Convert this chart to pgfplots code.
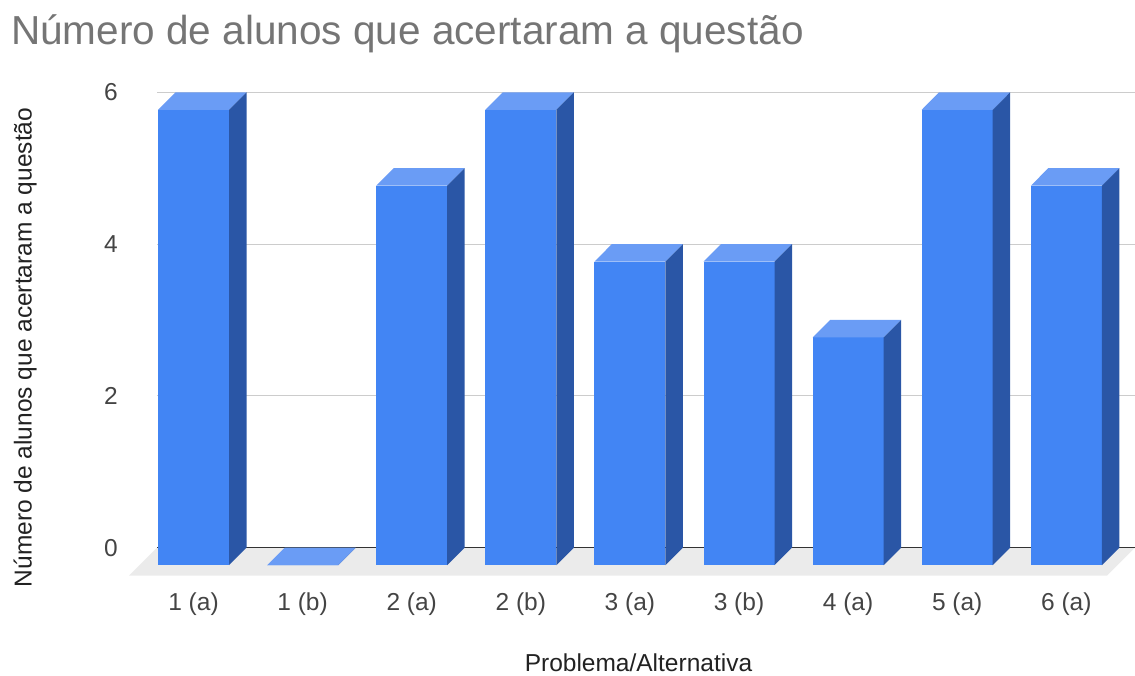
\documentclass[border=0pt]{standalone}
\usepackage{pgfplots}
\pgfplotsset{compat=1.18}
\usepackage{pgfplotstable}
\usepackage{fontspec}
\setmainfont{Liberation Sans}

\definecolor{barfront}{HTML}{4285F4}
\definecolor{bartop}{HTML}{6A9CF5}
\definecolor{barside}{HTML}{2A56A6}
\definecolor{floorgray}{HTML}{EBEBEB}
\definecolor{basecol}{HTML}{333333}
\definecolor{gridcol}{HTML}{CCCCCC}
\definecolor{titlecol}{HTML}{757575}
\definecolor{tickcol}{HTML}{444444}
\definecolor{labelcol}{HTML}{222222}

\pgfplotstableread{
x v
0 6
1 0
2 5
3 6
4 4
5 4
6 3
7 6
8 5
}\bars

\newcommand{\bodyfont}{\fontsize{24.5}{29}\selectfont}

\begin{document}
\begin{tikzpicture}
\path[use as bounding box] (0,0) rectangle (1135pt,675pt);
\begin{axis}[
  at={(157pt,99.5pt)}, anchor=south west,
  scale only axis, width=978pt, height=483.2pt,
  xmin=-0.3346, xmax=8.6297,
  ymin=-0.3663, ymax=6,
  clip=false,
  axis line style={draw=none},
  major tick length=0pt,
  ytick={0,2,4,6},
  ymajorgrids,
  grid style={gridcol, line width=1pt},
  xtick={0,1,2,3,4,5,6,7,8},
  xticklabels={1 (a),1 (b),2 (a),2 (b),3 (a),3 (b),4 (a),5 (a),6 (a)},
  /pgf/number format/assume math mode=true,
  tick label style={font=\bodyfont, text=tickcol, inner sep=0pt},
  yticklabel style={anchor=east, xshift=-39pt},
  xticklabel style={anchor=north, yshift=-17.5pt},
  every axis title shift=0pt,
  title={Número de alunos que acertaram a questão},
  title style={at={(rel axis cs:-0.1493,1.09789)}, anchor=base west, inner sep=0pt,
    font=\fontsize{40.5}{46}\selectfont, text=titlecol},
  xlabel={Problema/Alternativa},
  xlabel style={at={(rel axis cs:0.4923,-0.1977)}, anchor=base, inner sep=0pt,
    font=\bodyfont, text=labelcol},
  ylabel={Número de alunos que acertaram a questão},
  ylabel style={at={(rel axis cs:-0.1281,0.4719)}, anchor=base, inner sep=0pt,
    font=\bodyfont, text=labelcol},
]
% floor
\addplot[fill=floorgray, draw=none] coordinates {(-0.3346,0) (8.6297,0) (8.3749,-0.3663) (-0.5894,-0.3663)} -- cycle;
% baseline
\addplot[draw=basecol, line width=1.3pt] coordinates {(-0.3346,0) (8.6297,0)};
% bars
\pgfplotsinvokeforeach{0,...,8}{
  \pgfplotstablegetelem{#1}{v}\of\bars
  \pgfmathsetmacro{\vv}{\pgfplotsretval}
  \pgfmathsetmacro{\xl}{#1-0.3254}
  \pgfmathsetmacro{\xr}{#1+0.3254}
  \pgfmathsetmacro{\xlb}{#1-0.3254+0.1604}
  \pgfmathsetmacro{\xrb}{#1+0.3254+0.1604}
  \pgfmathsetmacro{\vf}{\vv-0.2306}
  \edef\temp{%
    \noexpand\addplot[fill=barfront,draw=none] coordinates {(\xl,-0.2306) (\xr,-0.2306) (\xr,\vf) (\xl,\vf)} -- cycle;
    \noexpand\addplot[fill=bartop,draw=none] coordinates {(\xl,\vf) (\xr,\vf) (\xrb,\vv) (\xlb,\vv)} -- cycle;
    \noexpand\addplot[fill=barside,draw=none] coordinates {(\xr,-0.2306) (\xrb,0) (\xrb,\vv) (\xr,\vf)} -- cycle;
  }\temp
}
\end{axis}
\end{tikzpicture}
\end{document}
